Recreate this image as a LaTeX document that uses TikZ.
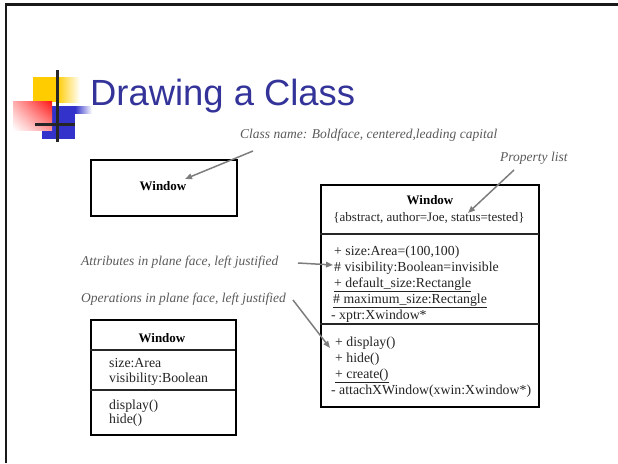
\documentclass[tikz,border=0pt]{standalone}
\usepackage{fontspec}
\setmainfont{Liberation Serif}
\newfontfamily\titlefont{Liberation Sans}
\usetikzlibrary{arrows.meta,shadings}
\definecolor{titleblue}{RGB}{51,51,153}
\definecolor{annogray}{RGB}{90,90,90}
\definecolor{boxtext}{RGB}{35,35,35}
\definecolor{arrowgray}{RGB}{125,125,125}
\definecolor{logoyellow}{RGB}{255,204,0}
\definecolor{logoblue}{RGB}{51,51,204}
\definecolor{logored}{RGB}{255,20,20}
\begin{document}
\begin{tikzpicture}[x=1pt,y=-1pt,
  anno/.style={font=\fontsize{13.5}{16}\selectfont\itshape, text=annogray, inner sep=0pt, anchor=base west},
  pointer/.style={draw=arrowgray, line width=1.5pt, -{Triangle[length=7pt,width=5.5pt]}},
  classbox/.style={draw=black, line width=1.8pt, inner sep=0pt, anchor=north west},
  divider/.style={draw=black!85, line width=1.2pt},
  member/.style={font=\fontsize{13.8}{16}\selectfont, text=boxtext, inner sep=0pt, anchor=base west},
  cname/.style={font=\fontsize{13}{16}\selectfont\bfseries, text=black, inner sep=0pt, anchor=base},
  frameline/.style={draw=black!90, line width=2.5pt},
  crossline/.style={draw=black!85, line width=3pt},
]
\useasboundingbox (0,0) rectangle (618,463);
% slide frame
\draw[frameline] (6,463) -- (6,4.3) -- (618,4.3);
% logo
\fill[logoyellow] (33,77) rectangle (57,102);
\shade[left color=logoyellow, right color=white] (57,77) rectangle (80,102);
\fill[logoblue] (42,106) rectangle (75,139);
\shade[left color=logoblue, right color=white] (75,106) rectangle (92,113);
\shade[upper left=logored!35, upper right=logored, lower left=white, lower right=logored!45] (13,101) rectangle (52,130);
\draw[crossline] (57,70) -- (57,142);
\draw[crossline] (35,124) -- (75,124);
% title
\node[font=\titlefont\fontsize{36.4}{40}\selectfont, text=titleblue, anchor=base west, inner sep=0pt] (title) at (90,105) {Drawing a Class};
% annotations
\node[anno] (aclass) at (240,138) {Class name: Boldface, centered,leading capital};
\node[anno] (aprop) at (500,161) {Property list};
\node[anno] (aattr) at (81,265) {Attributes in plane face, left justified};
\node[anno] (aops) at (81,302) {Operations in plane face, left justified};
% box 1
\node[classbox, minimum width=146pt, minimum height=56pt] (box1) at (90,159) {};
\node[cname] (n1) at (163,190) {Window};
% box 2
\node[classbox, minimum width=218pt, minimum height=222pt] (box2) at (320,184) {};
\draw[divider] (320,234) -- (539,234);
\draw[divider] (320,324) -- (539,324);
\node[cname] (n2) at (430,204) {Window};
\node[member, font=\fontsize{13}{16}\selectfont, anchor=base] (prop) at (429,221) {\{abstract, author=Joe, status=tested\}};
\node[member] (a1) at (334,255) {+ size:Area=(100,100)};
\node[member] (a2) at (334,271) {\# visibility:Boolean=invisible};
\node[member] (a3) at (334,287) {\underline{+ default\_size:Rectangle}};
\node[member] (a4) at (333,303) {\underline{\# maximum\_size:Rectangle}};
\node[member] (a5) at (331,319) {- xptr:Xwindow*};
\node[member] (o1) at (335,346) {+ display()};
\node[member] (o2) at (335,362) {+ hide()};
\node[member] (o3) at (335,378) {\underline{+ create()}};
\node[member] (o4) at (331,394) {- attachXWindow(xwin:Xwindow*)};
% box 3
\node[classbox, minimum width=145pt, minimum height=115pt] (box3) at (90,319) {};
\draw[divider] (90,350) -- (235,350);
\draw[divider] (90,390) -- (235,390);
\node[cname] (n3) at (162,342) {Window};
\node[member] (b1) at (109,367) {size:Area};
\node[member] (b2) at (109,382) {visibility:Boolean};
\node[member] (b3) at (109,409) {display()};
\node[member] (b4) at (109,423) {hide()};
% pointers
\coordinate (s1) at (253,151); \coordinate (t1) at (185,179);
\coordinate (s2) at (514,170); \coordinate (t2) at (468,213);
\coordinate (s3) at (298,263); \coordinate (t3) at (333,265);
\coordinate (s4) at (293,300); \coordinate (t4) at (330,348);
\draw[pointer] (s1) -- (t1);
\draw[pointer] (s2) -- (t2);
\draw[pointer] (s3) -- (t3);
\draw[pointer] (s4) -- (t4);
\end{tikzpicture}
\end{document}
